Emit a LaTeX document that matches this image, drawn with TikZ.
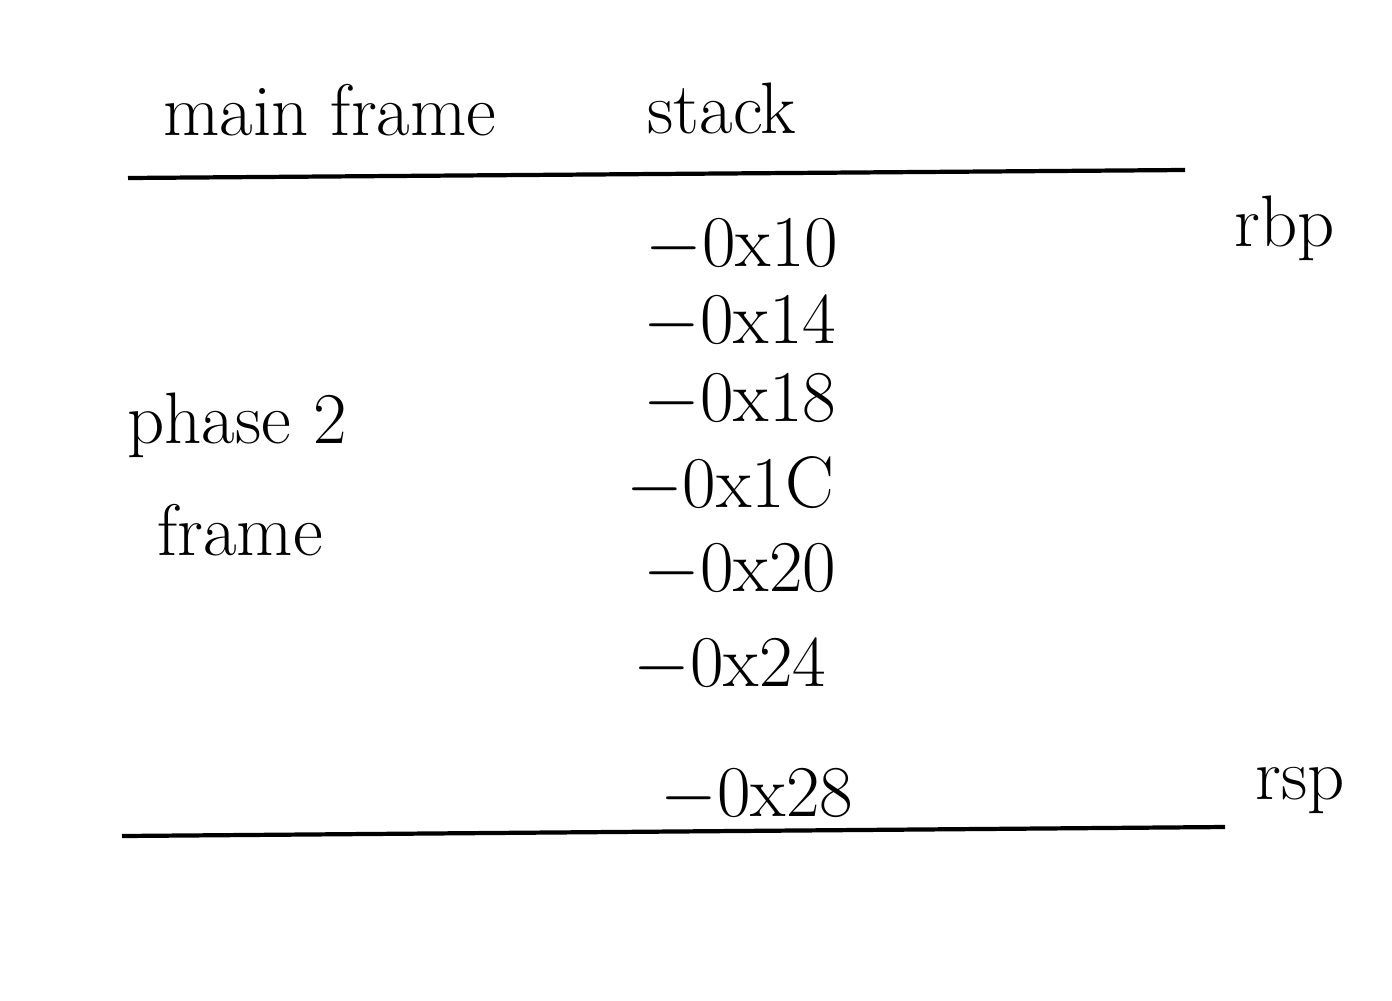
\documentclass[tikz,border=0pt]{standalone}
\begin{document}
\begin{tikzpicture}[x=0.01cm,y=-0.01cm,
  heading/.style={font=\huge},
  offset/.style={font=\huge},
  reg/.style={font=\huge},
  frameline/.style={line width=1.2pt}]
\useasboundingbox (0,0) rectangle (1392,1000);
\node[heading] (mainframe) at (330,110) {main frame};
\node[heading] (stack) at (722,108) {stack};
\coordinate (topL) at (128,178);
\coordinate (topR) at (1185,170);
\coordinate (botL) at (122,836);
\coordinate (botR) at (1225,827);
\draw[frameline] (topL) -- (topR);
\draw[frameline] (botL) -- (botR);
\node[reg] (rbp) at (1285,228) {rbp};
\node[reg] (rsp) at (1300,790) {rsp};
\node[offset] (o10) at (742,245) {$-$0x10};
\node[offset] (o14) at (740,322) {$-$0x14};
\node[offset] (o18) at (740,400) {$-$0x18};
\node[offset] (o1c) at (730,485) {$-$0x1C};
\node[offset] (o20) at (740,570) {$-$0x20};
\node[offset] (o24) at (730,665) {$-$0x24};
\node[offset] (o28) at (757,795) {$-$0x28};
\node[heading] (phase) at (237,425) {phase 2};
\node[heading] (frame) at (240,530) {frame};
\end{tikzpicture}
\end{document}
